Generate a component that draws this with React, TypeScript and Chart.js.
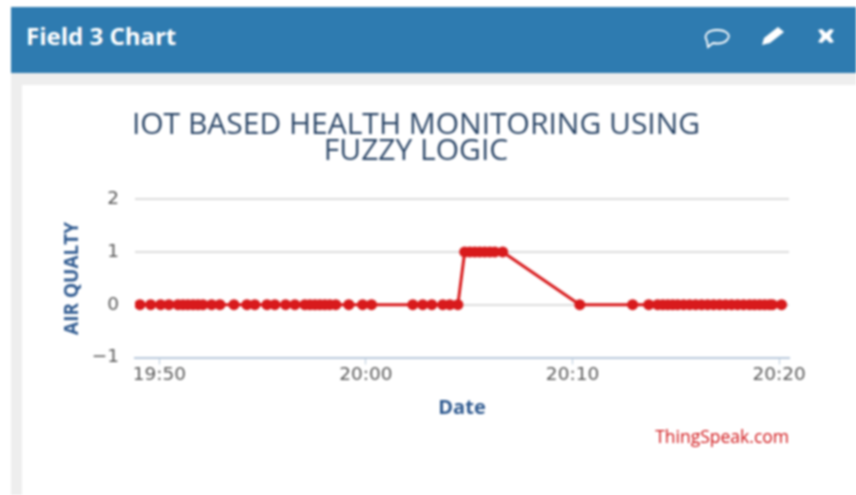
import React, { useEffect, useRef } from "react";
import { Chart, registerables } from "chart.js";

Chart.register(...registerables);

// minutes after 19:50
const times = [
  -0.94, -0.42, 0.06, 0.46, 0.9, 1.14, 1.38, 1.63, 1.87, 2.11, 2.53, 2.93, 3.61, 4.24, 4.62, 5.21, 5.59, 6.11, 6.56,
  7.04, 7.29, 7.53, 7.77, 8.01, 8.25, 8.54, 9.17, 9.84, 10.27, 12.27, 12.75, 13.19, 13.72, 14.06, 14.45,
  14.78, 15.03, 15.27, 15.51, 15.75, 16.0, 16.24, 16.62,
  20.35, 22.91, 23.69, 24.12, 24.37, 24.61, 24.85, 25.09, 25.38, 25.67, 25.96, 26.25, 26.54, 26.83, 27.12, 27.41,
  27.7, 27.99, 28.28, 28.57, 28.81, 29.06, 29.3, 29.54, 29.68, 30.12,
];
const airQuality = [
  0, 0, 0, 0, 0, 0, 0, 0, 0, 0, 0, 0, 0, 0, 0, 0, 0, 0, 0,
  0, 0, 0, 0, 0, 0, 0, 0, 0, 0, 0, 0, 0, 0, 0, 0,
  1, 1, 1, 1, 1, 1, 1, 1,
  0, 0, 0, 0, 0, 0, 0, 0, 0, 0, 0, 0, 0, 0, 0, 0,
  0, 0, 0, 0, 0, 0, 0, 0, 0, 0,
];
const xTickValues = [0, 10, 20, 30];
const xTickLabels = ["19:50", "20:00", "20:10", "20:20"];
const yTickValues = [-1, 0, 1, 2];
const yTickLabels = ["\u22121", "0", "1", "2"];
const titleLines = ["IOT BASED HEALTH MONITORING USING", "FUZZY LOGIC"];
const xAxisTitle = "Date";
const yAxisTitle = "AIR QUALTY";
const FONT = '"Open Sans", sans-serif';
const TICK_FONT = '"DejaVu Sans", sans-serif';

export default function App() {
  const ref = useRef<HTMLCanvasElement>(null);
  useEffect(() => {
    if (!ref.current) return;
    const chart = new Chart(ref.current, {
      type: "line",
      data: {
        datasets: [
          {
            data: times.map((t, i) => ({ x: t, y: airQuality[i] })),
            borderColor: "#d81a1c",
            backgroundColor: "#d81a1c",
            borderWidth: 3,
            pointRadius: 5.5,
            pointBorderWidth: 0,
            tension: 0,
          },
        ],
      },
      options: {
        animation: false,
        responsive: false,
        layout: { padding: { right: 21, bottom: 74.5, left: 21, top: 0 } },
        plugins: {
          legend: { display: false },
          tooltip: { enabled: false },
          title: {
            display: true,
            text: titleLines,
            color: "#2c4768",
            font: { family: FONT, size: 30, weight: "normal", lineHeight: 0.87 },
            padding: { top: 27, bottom: 35 },
          },
        },
        scales: {
          x: {
            type: "linear",
            min: -1.18,
            max: 30.48,
            afterBuildTicks: (s: any) => {
              s.ticks = xTickValues.map((value) => ({ value }));
            },
            afterFit: (s: any) => {
              s.height = 63;
            },
            border: { color: "#b8c9db", width: 2 },
            grid: { drawOnChartArea: false, drawTicks: true, tickLength: 7, color: "#b8c9db" },
            ticks: {
              color: "#5a5a5a",
              font: { family: TICK_FONT, size: 18.5 },
              maxRotation: 0,
              padding: 0,
              callback: (v: any) => xTickLabels[xTickValues.indexOf(v)],
            },
            title: {
              display: true,
              text: xAxisTitle,
              color: "#2f5a90",
              font: { family: FONT, size: 20, weight: "bold" },
              padding: { top: 6, bottom: 0 },
            },
          },
          y: {
            min: -1,
            max: 2,
            afterBuildTicks: (s: any) => {
              s.ticks = yTickValues.map((value) => ({ value }));
            },
            afterFit: (s: any) => {
              s.width = 92;
            },
            border: { display: false },
            grid: { color: "#dcdcdc", lineWidth: 2, drawTicks: false },
            ticks: {
              color: "#5a5a5a",
              font: { family: TICK_FONT, size: 18.5 },
              padding: 16,
              callback: (v: any) => yTickLabels[yTickValues.indexOf(v)],
            },
            title: {
              display: true,
              text: yAxisTitle,
              color: "#2f5a90",
              font: { family: FONT, size: 19, weight: "bold" },
              padding: { top: 18, bottom: 0 },
            },
          },
        },
      },
    } as any);
    return () => chart.destroy();
  }, []);

  return (
    <div style={{ position: "absolute", left: 0, top: 0, width: 856, height: 495, overflow: "hidden", background: "#fff", filter: "blur(0.8px)" }}>
      <div style={{ position: "absolute", left: 11, top: 7, right: 0, bottom: 0, background: "#eeeeee" }} />
      <div style={{ position: "absolute", left: 11, top: 7, right: 0, height: 66, background: "#2e7bb0" }} />
      <div style={{ position: "absolute", left: 26, top: 21, color: "#fff", font: `bold 24px ${FONT}`, lineHeight: "30px" }}>Field 3 Chart</div>
      <svg style={{ position: "absolute", left: 700, top: 22 }} width="140" height="30" viewBox="0 0 140 30">
        <path d="M7 19 C3 13 8 8 17 8 C26 8 32 13 27 18 C24 21 18 22 13 21 L8 25 Z" fill="none" stroke="#fff" strokeWidth="1.8" />
        <path d="M62 23 L64 16 L78 5 L84 10 L70 21 Z" fill="#fff" />
        <path d="M118 8 L122 7 L126 11 L130 7 L134 8 L130 14 L134 20 L130 21 L126 17 L122 21 L118 20 L122 14 Z" fill="#fff" />
      </svg>
      <div style={{ position: "absolute", left: 22, top: 85, right: 0, bottom: 0, background: "#fff" }} />
      <canvas ref={ref} width={788} height={410} style={{ position: "absolute", left: 22, top: 85, width: 788, height: 410 }} />
      <div style={{ position: "absolute", right: 67, top: 426, color: "#d01518", font: `17.5px ${FONT}`, lineHeight: "20px" }}>ThingSpeak.com</div>
    </div>
  );
}
